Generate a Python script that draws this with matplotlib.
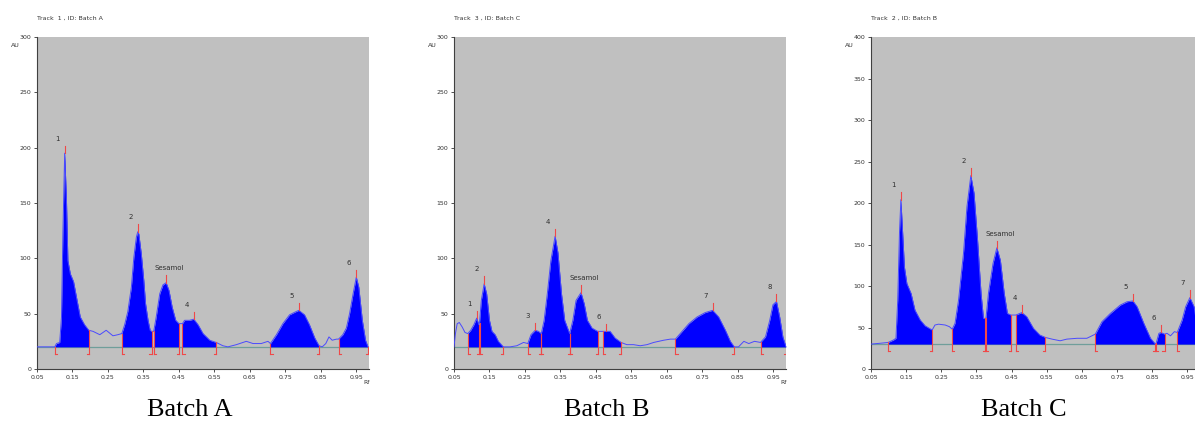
import numpy as np
import matplotlib
matplotlib.use('Agg')
import matplotlib.pyplot as plt

# ---- Batch A (Track 1) ----
rf_a = [0.050, 0.100, 0.105, 0.114, 0.119, 0.123, 0.128, 0.133, 0.137, 0.144, 0.153, 0.163,
        0.172, 0.184, 0.196, 0.208, 0.227, 0.245, 0.264, 0.278, 0.289, 0.297, 0.306, 0.316,
        0.323, 0.330, 0.334, 0.337, 0.344, 0.351, 0.356, 0.363, 0.369, 0.373, 0.379, 0.386,
        0.396, 0.405, 0.414, 0.422, 0.431, 0.441, 0.450, 0.460, 0.466, 0.480, 0.492, 0.504,
        0.518, 0.537, 0.555, 0.574, 0.588, 0.612, 0.640, 0.659, 0.682, 0.701, 0.708, 0.725,
        0.743, 0.762, 0.781, 0.788, 0.804, 0.818, 0.833, 0.845, 0.854, 0.864, 0.873, 0.882,
        0.894, 0.900, 0.912, 0.922, 0.931, 0.941, 0.950, 0.957, 0.967, 0.976, 0.983]
au_a = [20, 20, 23, 24, 47, 123, 195, 153, 98, 86, 79, 62,
        47, 40, 35, 34, 31, 35, 30, 31, 32, 40, 52, 74,
        101, 119, 124, 122, 104, 80, 59, 44, 35, 34, 34, 47,
        68, 76, 78, 71, 56, 44, 41, 41, 44, 44, 45, 40,
        32, 26, 24, 21, 20, 22, 25, 23, 23, 25, 23, 31,
        41, 49, 52, 53, 49, 40, 28, 21, 20, 23, 29, 26,
        27, 27, 31, 37, 50, 68, 83, 74, 44, 26, 20]
bounds_a = [(0.100, 0.196), (0.289, 0.373), (0.379, 0.450), (0.460, 0.555),
            (0.708, 0.845), (0.900, 0.983)]
peak_rf_a = [0.128, 0.334, 0.414, 0.492, 0.788, 0.950]
peak_au_a = [195, 124, 78, 45, 53, 83]
labels_a = ['1', '2', 'Sesamol', '4', '5', '6']

# ---- Batch B (Track 3) ----
rf_b = [0.050, 0.054, 0.059, 0.065, 0.073, 0.081, 0.089, 0.097, 0.106, 0.114, 0.120, 0.122,
        0.127, 0.135, 0.142, 0.150, 0.157, 0.166, 0.175, 0.189, 0.208, 0.227, 0.246, 0.258,
        0.267, 0.279, 0.288, 0.296, 0.304, 0.313, 0.323, 0.335, 0.343, 0.353, 0.362, 0.376,
        0.385, 0.394, 0.408, 0.417, 0.426, 0.439, 0.455, 0.462, 0.471, 0.479, 0.490, 0.504,
        0.521, 0.537, 0.556, 0.575, 0.594, 0.613, 0.641, 0.660, 0.674, 0.693, 0.712, 0.735,
        0.758, 0.779, 0.796, 0.815, 0.829, 0.840, 0.852, 0.867, 0.881, 0.897, 0.914, 0.928,
        0.940, 0.949, 0.959, 0.968, 0.977, 0.986]
au_b = [20, 32, 41, 42, 38, 33, 32, 35, 40, 46, 40, 42,
        62, 77, 68, 44, 34, 31, 25, 20, 20, 21, 24, 23,
        31, 35, 34, 32, 44, 68, 98, 120, 105, 68, 44, 32,
        44, 62, 69, 59, 44, 37, 34, 34, 34, 34, 34, 28,
        24, 22, 22, 21, 22, 24, 26, 27, 27, 34, 41, 47,
        51, 53, 47, 35, 25, 20, 20, 25, 23, 25, 24, 29,
        44, 58, 61, 47, 29, 20]
bounds_b = [(0.089, 0.120), (0.122, 0.189), (0.258, 0.296), (0.296, 0.376),
            (0.376, 0.455), (0.471, 0.521), (0.674, 0.840), (0.914, 0.986)]
peak_rf_b = [0.114, 0.135, 0.279, 0.335, 0.408, 0.479, 0.779, 0.959]
peak_au_b = [46, 77, 35, 120, 69, 34, 53, 61]
labels_b = ['1', '2', '3', '4', 'Sesamol', '6', '7', '8']

# ---- Batch C (Track 2) ----
rf_c = [0.050, 0.076, 0.099, 0.114, 0.121, 0.126, 0.131, 0.135, 0.140, 0.145, 0.152, 0.164,
        0.175, 0.190, 0.204, 0.224, 0.232, 0.242, 0.261, 0.273, 0.281, 0.289, 0.299, 0.313,
        0.323, 0.334, 0.343, 0.353, 0.363, 0.370, 0.375, 0.377, 0.384, 0.397, 0.408, 0.418,
        0.429, 0.438, 0.448, 0.462, 0.479, 0.493, 0.512, 0.530, 0.546, 0.565, 0.588, 0.607,
        0.636, 0.664, 0.688, 0.707, 0.731, 0.759, 0.778, 0.795, 0.807, 0.826, 0.845, 0.859,
        0.861, 0.869, 0.875, 0.885, 0.892, 0.902, 0.913, 0.921, 0.935, 0.945, 0.957, 0.969,
        0.978, 0.987]
au_c = [30, 31, 32, 35, 37, 83, 164, 204, 164, 123, 103, 91,
        71, 59, 52, 47, 53, 54, 53, 51, 48, 55, 83, 139,
        196, 233, 212, 156, 91, 61, 61, 61, 91, 127, 146, 131,
        91, 67, 65, 65, 68, 63, 49, 41, 38, 36, 34, 36,
        37, 37, 42, 57, 67, 77, 81, 82, 75, 55, 37, 30,
        31, 43, 44, 42, 43, 40, 45, 44, 59, 75, 86, 75,
        51, 30]
bounds_c = [(0.099, 0.224), (0.281, 0.375), (0.377, 0.448), (0.462, 0.546),
            (0.688, 0.859), (0.861, 0.885), (0.921, 0.987)]
peak_rf_c = [0.135, 0.334, 0.408, 0.479, 0.795, 0.875, 0.957]
peak_au_c = [204, 233, 146, 68, 82, 44, 86]
labels_c = ['1', '2', 'Sesamol', '4', '5', '6', '7']

panels = [
    (rf_a, au_a, bounds_a, peak_rf_a, peak_au_a, labels_a, 20, 300, 'Track  1 , ID: Batch A', 'Batch A'),
    (rf_b, au_b, bounds_b, peak_rf_b, peak_au_b, labels_b, 20, 300, 'Track  3 , ID: Batch C', 'Batch B'),
    (rf_c, au_c, bounds_c, peak_rf_c, peak_au_c, labels_c, 30, 400, 'Track  2 , ID: Batch B', 'Batch C'),
]
lefts = [37, 454, 871]
caption_x = [190, 607, 1024]

W, H = 1195, 421
fig = plt.figure(figsize=(W / 100, H / 100), dpi=100)
red = '#f04848'

for i, (rf, au, bounds, prf, pau, labs, base, ymax, track, caption) in enumerate(panels):
    rf = np.array(rf)
    au = np.array(au)
    width = 0.935 * (331 if i < 2 else 328) / 0.933
    ax = fig.add_axes([lefts[i] / W, (H - 369) / H, width / W, 332 / H])
    ax.set_facecolor('#c0c0c0')
    ax.set_xlim(0.05, 0.985)
    ax.set_ylim(0, ymax)

    # baseline
    ax.axhline(base, color='#6f9e9a', lw=0.9, zorder=1)
    # peak areas
    for s, e in bounds:
        m = (rf >= s - 1e-9) & (rf <= e + 1e-9)
        ax.fill_between(rf, base, au, where=m, color='#0000ff', lw=0, zorder=2)
    ax.plot(rf, au, color='#4a4aff', lw=0.7, zorder=3)

    # peak start / end markers
    drop = 0.022 * ymax
    for s, e in bounds:
        for x, foot in ((s, 0.006), (e, -0.006)):
            y0 = np.interp(x, rf, au)
            ax.plot([x, x], [y0, base - drop], color=red, lw=0.8, zorder=4)
            ax.plot([x, x + foot], [base - drop, base - drop], color=red, lw=0.8, zorder=4)

    # peak maxima ticks and labels
    for x, y, lab in zip(prf, pau, labs):
        ax.plot([x, x], [y, y + drop], color=red, lw=0.8, zorder=4)
        if lab == 'Sesamol':
            tx = x + 0.009
        else:
            tx = x - 0.02
        ax.text(tx, y + drop + 0.012 * ymax, lab, fontsize=5, ha='center', va='bottom',
                color='#303030')

    ax.set_xticks(np.arange(0.05, 0.96, 0.1))
    ax.set_xticklabels(['%.2f' % v for v in np.arange(0.05, 0.96, 0.1)])
    ax.set_yticks(np.arange(0, ymax + 1, 50))
    ax.tick_params(labelsize=4.5, length=2.5, width=0.6, colors='#333333', pad=1.5)
    for sp in ['top', 'right']:
        ax.spines[sp].set_visible(False)
    for sp in ['left', 'bottom']:
        ax.spines[sp].set_color('#404040')
        ax.spines[sp].set_linewidth(0.8)

    ax.text(-0.079, 0.973, 'AU', transform=ax.transAxes, fontsize=4.5, color='#333333',
            ha='left', va='center')
    # the third panel is cut at the right edge, its Rf label is not shown
    if i < 2:
        ax.text(0.994, -0.042, 'Rf', transform=ax.transAxes, fontsize=4.5, color='#333333',
                ha='center', va='center')
    ax.text(0.0, 1.057, track, transform=ax.transAxes, fontsize=4.5, color='#333333',
            ha='left', va='center')

    fig.text(caption_x[i] / W, 1 - 410 / H, caption, fontsize=19, family='Liberation Serif',
             ha='center', va='center')

fig.savefig('out.png', dpi=100)
